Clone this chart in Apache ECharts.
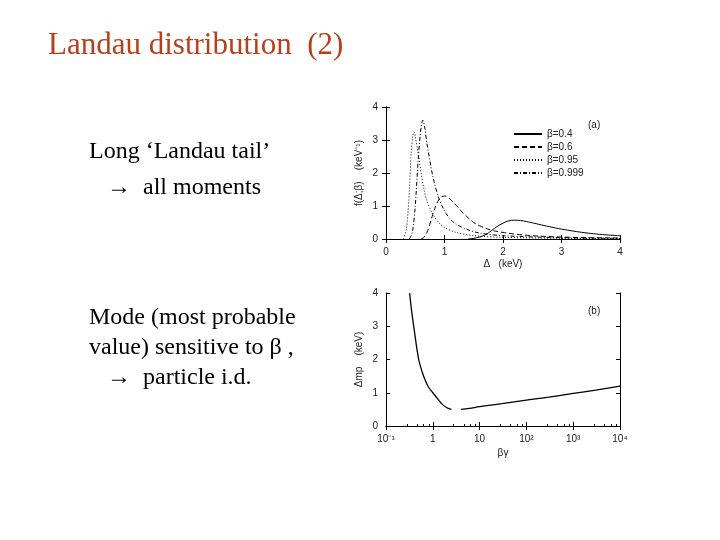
<!DOCTYPE html><html><head><meta charset="utf-8"><script src="https://cdn.jsdelivr.net/npm/echarts@6/dist/echarts.min.js"></script>
<style>body{margin:0;background:#fff}#c{width:720px;height:540px}</style></head><body><div id="c"></div><script>
const b04x=[1.4,1.5,1.6,1.7,1.8,1.9,2.0,2.1,2.2,2.3,2.4,2.6,2.8,3.0,3.2,3.4,3.6,3.8,4.0];
const b04y=[0,0.02,0.06,0.13,0.25,0.38,0.48,0.55,0.57,0.56,0.53,0.45,0.37,0.3,0.24,0.19,0.15,0.12,0.1];
const b06x=[0.6,0.65,0.7,0.75,0.8,0.85,0.9,0.95,1.0,1.05,1.1,1.2,1.3,1.4,1.5,1.6,1.8,2.0,2.2,2.5,3,3.5,4];
const b06y=[0,0.05,0.2,0.45,0.75,1.0,1.18,1.28,1.3,1.27,1.2,1.02,0.82,0.65,0.5,0.4,0.27,0.2,0.15,0.1,0.06,0.04,0.03];
const b095x=[0.3,0.35,0.4,0.43,0.46,0.48,0.5,0.55,0.6,0.65,0.7,0.8,0.9,1.0,1.2,1.5,2,3,4];
const b095y=[0,0.3,1.5,2.6,3.15,3.25,3.1,2.6,2.0,1.5,1.15,0.75,0.5,0.35,0.2,0.1,0.05,0.02,0.01];
const b0999x=[0.4,0.45,0.5,0.55,0.6,0.63,0.66,0.7,0.8,0.9,1.0,1.1,1.2,1.4,1.6,2,3,4];
const b0999y=[0,0.2,1.0,2.4,3.4,3.6,3.4,2.9,1.9,1.25,0.85,0.6,0.45,0.28,0.18,0.1,0.04,0.02];
const mpx=[0.32,0.35,0.4,0.5,0.6,0.7,0.8,1,1.3,1.6,2,2.5];
const mpy=[4,3.5,2.9,2.0,1.6,1.35,1.18,1.0,0.8,0.65,0.55,0.5];
const mp2x=[4,6,10,30,100,300,1000,3000,10000];
const mp2y=[0.5,0.53,0.58,0.67,0.78,0.87,0.98,1.08,1.2];
const legendNames=['β=0.4','β=0.6','β=0.95','β=0.999'];
const z=(xs,ys)=>xs.map((x,i)=>[x,ys[i]]);
const sup={'-1':'10⁻¹','0':'1','1':'10','2':'10²','3':'10³','4':'10⁴'};
const lab={fontFamily:'Liberation Sans',fontSize:10,color:'#222'};
const ax=(o)=>Object.assign({axisLine:{lineStyle:{color:'#000'}},axisTick:{inside:true,length:4,lineStyle:{color:'#000'}},splitLine:{show:false},axisLabel:lab,nameTextStyle:lab},o);
const hid=(o)=>ax(Object.assign({axisLabel:{show:false}},o));
const c=echarts.init(document.getElementById('c'));
const ls=(t,w)=>({color:'#000',width:w||1,type:t});
c.setOption({animation:false,
grid:[{left:386,top:107,width:234,height:132},{left:386,top:293,width:234,height:133}],
xAxis:[ax({gridIndex:0,type:'value',min:0,max:4,interval:1,name:'Δ   (keV)',nameLocation:'middle',nameGap:20}),
 hid({gridIndex:0,type:'value',min:0,max:4,interval:1,position:'top'}),
 ax({gridIndex:1,type:'log',min:0.1,max:10000,logBase:10,name:'βγ',nameLocation:'middle',nameGap:22,axisLabel:Object.assign({formatter:v=>sup[Math.round(Math.log10(v))]},lab),minorTick:{show:true,length:2}}),
 hid({gridIndex:1,type:'log',min:0.1,max:10000,position:'top'})],
yAxis:[ax({gridIndex:0,type:'value',min:0,max:4,interval:1,name:'f(Δ;β)    (keV⁻¹)',nameLocation:'middle',nameGap:22}),
 hid({gridIndex:0,type:'value',min:0,max:4,interval:1,position:'right'}),
 ax({gridIndex:1,type:'value',min:0,max:4,interval:1,name:'Δmp    (keV)',nameLocation:'middle',nameGap:22}),
 hid({gridIndex:1,type:'value',min:0,max:4,interval:1,position:'right'})],
legend:{left:508,top:124,orient:'vertical',itemWidth:28,itemHeight:8,itemGap:3,itemStyle:{opacity:0},textStyle:{fontFamily:'Liberation Sans',fontSize:10,color:'#222'},data:legendNames},
series:[
{name:legendNames[0],type:'line',xAxisIndex:0,yAxisIndex:0,data:z(b04x,b04y),smooth:0.4,symbol:'none',lineStyle:ls('solid'),itemStyle:{color:'#000'}},
{name:legendNames[1],type:'line',xAxisIndex:0,yAxisIndex:0,data:z(b06x,b06y),smooth:0.4,symbol:'none',lineStyle:ls([5,3]),itemStyle:{color:'#000'}},
{name:legendNames[2],type:'line',xAxisIndex:0,yAxisIndex:0,data:z(b095x,b095y),smooth:0.3,symbol:'none',lineStyle:ls([1,2]),itemStyle:{color:'#000'}},
{name:legendNames[3],type:'line',xAxisIndex:0,yAxisIndex:0,data:z(b0999x,b0999y),smooth:0.3,symbol:'none',lineStyle:ls([4,2,1,2]),itemStyle:{color:'#000'}},
{type:'line',xAxisIndex:2,yAxisIndex:2,data:z(mpx,mpy),smooth:0.4,symbol:'none',lineStyle:ls('solid',1.3)},
{type:'line',xAxisIndex:2,yAxisIndex:2,data:z(mp2x,mp2y),smooth:0.4,symbol:'none',lineStyle:ls('solid',1.3)}],
graphic:[
{type:'text',left:48,top:30,style:{text:'Landau distribution  (2)',font:'31px "Liberation Serif"',fill:'#b5401c'}},
{type:'text',left:89,top:134,style:{text:'Long ‘Landau tail’\n   →  all moments',font:'24px "Liberation Serif"',fill:'#000',lineHeight:36}},
{type:'text',left:89,top:303,style:{text:'Mode (most probable\nvalue) sensitive to β ,\n   →  particle i.d.',font:'24px "Liberation Serif"',fill:'#000',lineHeight:30}},
{type:'text',left:588,top:120,style:{text:'(a)',font:'10px "Liberation Sans"',fill:'#222'}},
{type:'text',left:588,top:306,style:{text:'(b)',font:'10px "Liberation Sans"',fill:'#222'}}]});
</script></body></html>
